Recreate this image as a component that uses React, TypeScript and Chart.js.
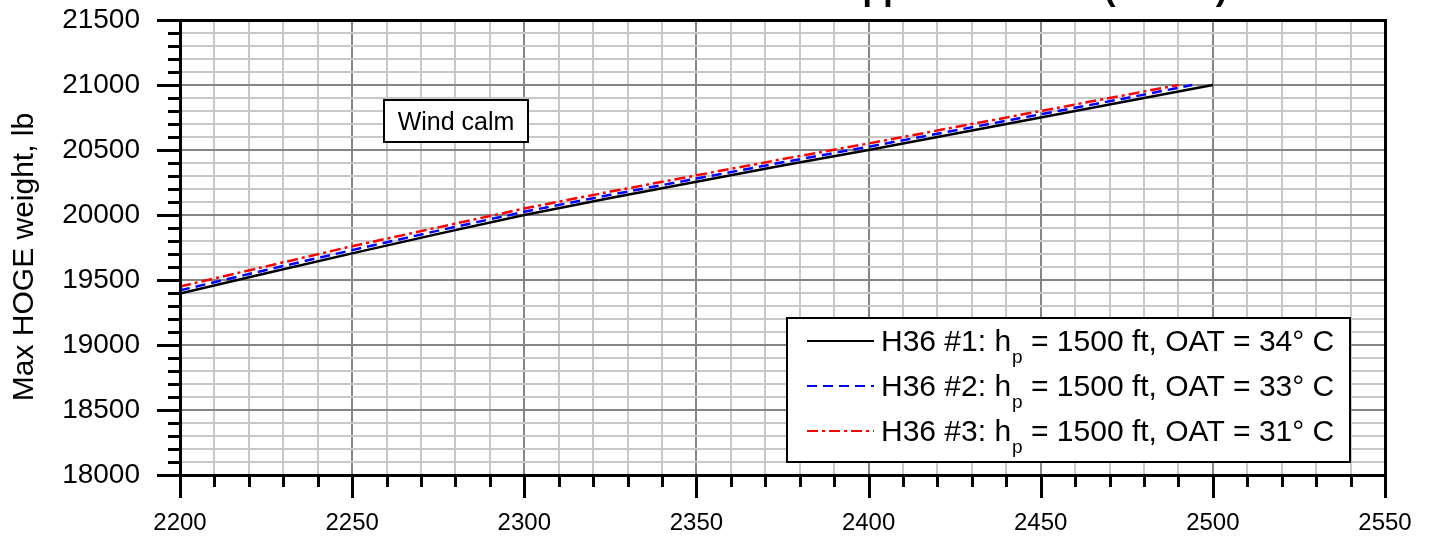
import { useEffect, useRef } from "react";
import { Chart, registerables } from "chart.js";

Chart.register(...registerables);

const FONT = '"Liberation Sans", Arial, Helvetica, sans-serif';

// Rotor speed vs. maximum HOGE weight for three test points
const rpm1 = [2200, 2225, 2250, 2275, 2300, 2325, 2350, 2375, 2400, 2425, 2450, 2475, 2500];
const weight1 = [19395, 19552, 19705, 19855, 20000, 20130, 20255, 20380, 20500, 20625, 20750, 20875, 21000];

const rpm2 = [2200, 2225, 2250, 2275, 2300, 2325, 2350, 2375, 2400, 2425, 2450, 2475, 2494];
const weight2 = [19420, 19577, 19730, 19880, 20025, 20155, 20280, 20405, 20525, 20650, 20775, 20900, 21000];

const rpm3 = [2200, 2225, 2250, 2275, 2300, 2325, 2350, 2375, 2400, 2425, 2450, 2475, 2490];
const weight3 = [19450, 19605, 19760, 19905, 20050, 20180, 20305, 20430, 20550, 20675, 20800, 20925, 21000];

const seriesNames = ["H36 #1", "H36 #2", "H36 #3"];
const pressureAltitudes = ["1500 ft", "1500 ft", "1500 ft"];
const oatValues = [34, 33, 31];
const seriesColors = ["#000000", "#0000ff", "#ff0000"];
const seriesDashes = [[], [10, 6], [11, 4, 3, 4]];

// Axis ranges and tick spacing
const xMin = 2200;
const xMax = 2550;
const xMajor = 50;
const xMinor = 10;
const yMin = 18000;
const yMax = 21500;
const yMajor = 500;
const yMinor = 100;

const titleLead = "H36 Hover Performance – ";
const titleTail = "Approach Mode (HOGE)";
const yAxisTitle = "Max HOGE weight, lb";
const noteText = "Wind calm";

const toPoints = (xs: number[], ys: number[]) => xs.map((v, i) => ({ x: v, y: ys[i] }));

const framePlugin = {
  id: "frameDecor",
  beforeDraw(chart: any) {
    const { ctx, width, height } = chart;
    ctx.save();
    ctx.fillStyle = "#ffffff";
    ctx.fillRect(0, 0, width, height);
    ctx.restore();
  },
  afterDraw(chart: any) {
    const { ctx, chartArea, scales } = chart;
    const { left, right, top, bottom } = chartArea;
    const xs = scales.x;
    const ys = scales.y;
    ctx.save();
    ctx.setLineDash([]);

    // outward tick marks
    ctx.strokeStyle = "#000";
    ctx.lineWidth = 3;
    ctx.beginPath();
    xs.ticks.forEach((t: any) => {
      const px = Math.round(xs.getPixelForValue(t.value)) + 0.5;
      const len = t.value % xMajor === 0 ? 23 : 12;
      ctx.moveTo(px, bottom);
      ctx.lineTo(px, bottom + len);
    });
    ys.ticks.forEach((t: any) => {
      const py = Math.round(ys.getPixelForValue(t.value)) + 0.5;
      const len = t.value % yMajor === 0 ? 23 : 12;
      ctx.moveTo(left, py);
      ctx.lineTo(left - len, py);
    });
    ctx.stroke();

    // plot frame
    ctx.strokeRect(left + 0.5, top + 0.5, right - left, bottom - top);

    // title (runs off the top edge)
    ctx.fillStyle = "#000";
    ctx.font = `bold 34px ${FONT}`;
    ctx.textBaseline = "alphabetic";
    ctx.textAlign = "right";
    ctx.fillText(titleLead, 838, 0);
    ctx.textAlign = "left";
    ctx.fillText(titleTail, 838, 0);

    // y axis title
    ctx.save();
    ctx.translate(33, 257);
    ctx.rotate(-Math.PI / 2);
    ctx.font = `30px ${FONT}`;
    ctx.textAlign = "center";
    ctx.textBaseline = "alphabetic";
    ctx.fillText(yAxisTitle, 0, 0);
    ctx.restore();

    // note box
    ctx.fillStyle = "#fff";
    ctx.fillRect(384, 100, 144, 42);
    ctx.strokeStyle = "#000";
    ctx.lineWidth = 2;
    ctx.strokeRect(384, 100, 144, 42);
    ctx.fillStyle = "#000";
    ctx.font = `25px ${FONT}`;
    ctx.textAlign = "center";
    ctx.fillText(noteText, 456, 130);

    // legend
    ctx.fillStyle = "#fff";
    ctx.fillRect(787, 318, 563, 144);
    ctx.strokeStyle = "#000";
    ctx.lineWidth = 2;
    ctx.strokeRect(787, 318, 563, 144);
    ctx.textAlign = "left";
    const baselines = [351, 396, 441];
    chart.data.datasets.forEach((ds: any, i: number) => {
      const base = baselines[i];
      ctx.strokeStyle = ds.borderColor;
      ctx.lineWidth = 2;
      ctx.setLineDash(ds.borderDash || []);
      ctx.beginPath();
      ctx.moveTo(807, base - 10);
      ctx.lineTo(874, base - 10);
      ctx.stroke();
      ctx.setLineDash([]);
      ctx.fillStyle = "#000";
      let tx = 881;
      ctx.font = `30px ${FONT}`;
      const head = `${seriesNames[i]}: h`;
      ctx.fillText(head, tx, base);
      tx += ctx.measureText(head).width + 1;
      ctx.font = `19px ${FONT}`;
      ctx.fillText("p", tx, base + 12);
      tx += ctx.measureText("p").width;
      ctx.font = `30px ${FONT}`;
      ctx.fillText(` = ${pressureAltitudes[i]}, OAT = ${oatValues[i]}° C`, tx, base);
    });

    ctx.restore();
  },
};

export default function App() {
  const canvasRef = useRef<HTMLCanvasElement | null>(null);

  useEffect(() => {
    const canvas = canvasRef.current;
    if (!canvas) return;
    const gridColor = (major: number) => (c: any) =>
      c.tick && Math.round(c.tick.value) % major === 0 ? "#858585" : "#c8c8c8";

    const chart = new Chart(canvas, {
      type: "line",
      data: {
        datasets: [
          { label: seriesNames[0], data: toPoints(rpm1, weight1) },
          { label: seriesNames[1], data: toPoints(rpm2, weight2) },
          { label: seriesNames[2], data: toPoints(rpm3, weight3) },
        ].map((d, i) => ({
          ...d,
          borderColor: seriesColors[i],
          backgroundColor: seriesColors[i],
          borderDash: seriesDashes[i],
          borderWidth: 2.5,
          pointRadius: 0,
          tension: 0,
          fill: false,
        })),
      },
      options: {
        animation: false,
        responsive: false,
        devicePixelRatio: 1,
        layout: { padding: { left: 0, top: 20, right: 45, bottom: 0 } },
        plugins: {
          legend: { display: false },
          title: { display: false },
          tooltip: { enabled: false },
        },
        scales: {
          x: {
            type: "linear",
            min: xMin,
            max: xMax,
            ticks: {
              stepSize: xMinor,
              autoSkip: false,
              maxRotation: 0,
              padding: 34,
              color: "#000",
              font: { family: FONT, size: 24 },
              callback: (v: any) => (Math.round(v) % xMajor === 0 ? String(v) : ""),
            },
            grid: { color: gridColor(xMajor), lineWidth: 2, drawTicks: false },
            border: { display: false },
            afterFit: (s: any) => {
              s.height = 62;
              s.paddingLeft = 0;
              s.paddingRight = 0;
              s.paddingTop = 0;
              s.paddingBottom = 0;
            },
          },
          y: {
            type: "linear",
            min: yMin,
            max: yMax,
            ticks: {
              stepSize: yMinor,
              autoSkip: false,
              padding: 40,
              color: "#000",
              font: { family: FONT, size: 28 },
              callback: (v: any) => (Math.round(v) % yMajor === 0 ? String(v) : ""),
            },
            grid: { color: gridColor(yMajor), lineWidth: 2, drawTicks: false },
            border: { display: false },
            afterFit: (s: any) => {
              s.width = 180;
              s.paddingLeft = 0;
              s.paddingRight = 0;
              s.paddingTop = 0;
              s.paddingBottom = 0;
            },
          },
        },
      },
      plugins: [framePlugin],
    } as any);

    return () => chart.destroy();
  }, []);

  return (
    <div style={{ position: "fixed", left: 0, top: 0, width: 1430, height: 537, background: "#fff" }}>
      <canvas ref={canvasRef} width={1430} height={537} style={{ display: "block", width: 1430, height: 537 }} />
    </div>
  );
}
